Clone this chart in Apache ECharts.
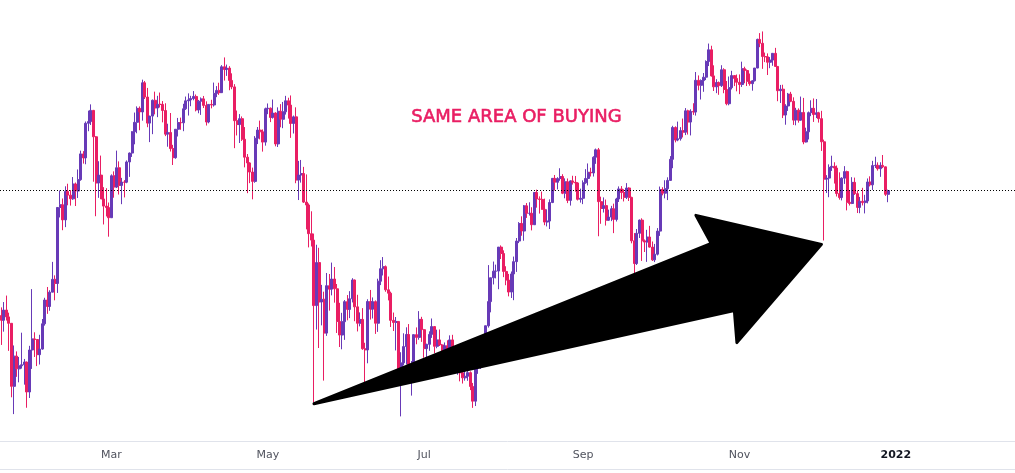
<!DOCTYPE html>
<html>
<head>
<meta charset="utf-8">
<script src="https://cdn.jsdelivr.net/npm/echarts@6/dist/echarts.min.js"></script>
<style>
  html, body { margin: 0; padding: 0; background: #fff; }
  #chart { width: 1015px; height: 473px; }
</style>
</head>
<body>
<div id="chart"></div>
<script>
// daily candles, 2021-01-17 .. 2021-12-29 (one row per month)
const opens = [
  36178,35792,36630,36069,35548,30825,33005,32067,32289,32366,32569,30432,33466,34316,34269,
  33114,33537,35510,37472,36926,38144,39266,38903,46196,46481,44918,47909,47504,47105,48717,47945,49199,52149,51679,55888,56099,57539,54207,48824,49705,47093,46339,46188,
  45137,49631,48378,50538,48561,48927,48912,51206,52246,54824,56008,57805,57332,61243,59302,55907,56804,58870,57858,58346,58313,57523,54529,54738,52774,51704,55137,55974,55947,57750,58800,
  58918,59095,59384,57604,58758,59057,58192,56048,58323,58245,59793,60204,59893,63503,63110,63314,61572,60683,56216,55724,56473,53906,51762,51093,50050,49004,54021,55033,54824,53555,
  57750,57828,56631,57200,53333,57424,56396,57356,58804,58232,55859,56704,49150,49716,49880,46760,46456,43538,42909,37002,40782,37304,37536,34770,38705,38402,39295,38436,35697,34616,35678,
  37333,36684,37575,39208,36895,35551,35862,33560,33472,37345,36702,37334,35552,39097,40218,40406,38347,38053,35787,35615,35698,31676,32505,33723,34662,31637,32186,34649,34434,35867,
  35040,33572,33897,34668,35287,33746,34235,33855,32877,33798,33520,34240,33155,32702,32822,31780,31421,31533,31796,30817,29807,32110,32313,33581,34292,35350,37337,39406,39995,40008,42235,
  41626,39974,39201,38152,39747,40869,42816,44555,43798,46365,45585,45593,44428,47793,47096,47047,46004,44695,44802,46717,49339,48905,49321,49546,47706,48960,46942,49058,48902,48829,47054,
  47166,48847,49327,50025,49944,51753,52633,46811,46091,46391,44883,45201,46063,44963,47092,48176,47783,47267,48278,47261,42843,40693,43574,44895,42839,42717,43208,42235,41034,41564,
  43790,48116,47711,48199,49113,51514,55361,53805,53967,54968,54771,57484,56041,57401,57321,61593,60892,61553,62026,64262,65993,62211,60688,61286,60852,63078,60328,58413,60575,62253,61859,
  61318,61004,63226,62970,61452,61125,61527,63326,67566,66971,64995,64949,64155,64469,65466,63557,60161,60368,56942,58119,59697,58730,56289,57569,56281,57274,53569,54815,57248,57806,
  57005,57229,56477,53598,49253,49368,50582,50700,50504,47672,47243,49362,50098,46737,46612,48896,47665,46202,46848,46707,46880,48936,48628,50784,50822,50429,50809,50640,47588
];
const highs = [
  36852,37299,37850,36415,35552,33811,33360,32944,34802,32794,32600,33783,38406,34834,34288,
  34638,35896,37662,38592,38310,40846,39621,46203,48003,47145,48463,48745,48047,49487,48875,50341,52533,52474,56113,57505,58330,57600,54300,51290,51948,48370,48253,46716,
  49784,50127,52535,51273,49396,49147,51384,52314,54901,57259,58064,58055,61683,61500,60540,56833,58970,60031,59468,59911,58767,58471,55831,57200,53229,55137,56568,56610,58405,59369,59800,
  59469,60110,59647,58913,59252,59449,58731,58338,58937,61276,60790,61253,63742,64863,63821,63595,62572,61057,57520,57062,56757,55410,52131,51167,50554,54288,55416,56227,55115,57900,
  58449,57915,58970,57300,57936,58363,58650,59464,59210,59519,56872,57939,51330,51438,50639,49783,46623,45799,43546,42462,42172,38776,38184,39835,39742,40782,40379,38856,37234,36400,37469,
  37896,38231,39367,39242,37917,36436,36790,34017,37537,38334,37690,37439,39322,41004,41295,40516,39513,38187,36424,36059,35721,33298,34753,35228,35487,32637,34656,35219,36542,36074,
  35100,33939,34909,35937,35300,35038,35056,33928,34042,34209,34593,34634,33339,33115,33159,32249,31935,32398,31885,31063,32816,32580,33581,34469,35364,40551,39406,40877,40594,42235,42400,
  41927,40446,39750,39969,41341,43113,44689,45282,46456,46664,46743,46218,47831,48098,47372,47889,47127,46000,47050,49342,49718,49471,50482,49804,49342,49327,49123,49631,49609,48913,48209,
  49115,50375,51033,50542,51868,52781,52853,47340,47262,47031,45969,46364,46598,47218,48450,48486,48141,48813,48359,47328,43598,44000,44954,45080,42971,43919,44313,42775,42541,44092,
  48436,48362,49130,49456,51886,55568,55500,56100,55398,56488,57840,57627,57688,58478,62757,62274,61715,62614,64434,66930,66600,63715,61743,61432,63729,63293,61496,62128,62927,62274,62406,
  62419,64242,63516,63123,62541,61590,63326,67673,68530,68789,65579,65460,64915,65495,66281,63617,60954,60977,58351,59859,60004,59266,57875,57803,59367,59186,55329,57393,58872,59113,
  59041,57360,57482,53859,49699,50929,51934,51171,50797,50015,49458,50724,50204,48004,49473,49425,48004,47313,48298,47537,49329,49568,51332,51814,51156,51171,52016,50679,48100
];
const lows = [
  33850,34883,35769,33400,30071,28949,31493,31106,32087,30942,29367,30023,32064,32940,32270,
  32384,33489,35362,36317,36570,38138,37446,38076,45166,43881,44187,46424,46392,47000,46347,47201,49072,51015,50937,54894,55672,48967,45290,47214,47093,44454,45269,43241,
  45115,47228,48275,47565,46542,47257,48800,49506,51789,53290,54638,55013,56217,59038,55393,53555,54528,57023,56665,57915,56005,54288,53000,52429,50856,51579,54242,55071,54895,57600,56873,
  58089,58869,57414,57168,56957,57846,55604,55879,57807,58038,59289,59589,59869,61554,62208,60222,60361,52829,54368,53448,53695,50583,47714,48805,47056,48852,53319,53887,52418,53129,
  57052,56035,56478,53046,52969,55382,55271,56998,56482,54071,54608,48800,46980,48868,46664,43963,42207,42293,29700,35050,33616,35383,31227,34551,36581,37868,37247,34779,33693,33520,34241,
  35787,35966,37268,35717,34900,35304,33480,31114,32475,35847,35937,34707,34865,38757,39609,38176,37439,35255,34933,33432,31295,28800,32318,32385,31350,30185,32071,33902,34252,34086,
  32883,32770,33402,34396,33213,33599,33770,32133,32318,33116,33450,32677,32270,31639,31175,31021,31223,31215,30563,29360,29482,31708,32057,33192,33881,35205,36441,38814,39352,38397,41110,
  39460,38746,37782,37642,37458,39932,42618,43331,42848,45119,45361,43861,44400,46177,45562,45952,44377,44256,43998,46650,48004,48123,49074,47609,47164,46653,46394,48652,47875,46932,46707,
  46544,48744,48559,49544,49543,50988,43285,44523,45669,44344,44818,44791,43591,44752,46773,47079,46829,47088,46876,42598,39787,40562,43116,40936,41770,40848,42190,40931,40829,41444,
  43320,47481,47159,46974,49073,50488,53525,53662,53735,54123,54415,54477,54371,56957,56868,60206,58973,60012,61622,63610,62117,60122,59826,59604,60665,59817,58208,58206,60329,60791,60074,
  59695,60673,61184,60799,60844,60163,61432,63300,66382,63208,64180,62333,63303,63647,63548,58747,58514,56550,55705,57469,58618,55679,55632,55964,56218,53300,53500,53879,56792,56057,
  56553,55973,52496,42874,47727,47281,50175,48765,47358,47023,46942,48725,45894,46402,46550,47529,45618,45598,46406,45579,46630,48450,48065,50514,50213,49510,50499,47414,46750
];
const closes = [
  35792,36630,36069,35548,30825,33005,32067,32289,32366,32569,30432,33466,34316,34269,33114,
  33537,35510,37472,36926,38144,39266,38903,46196,46481,44918,47909,47504,47105,48717,47945,49199,52149,51679,55888,56099,57539,54207,48824,49705,47093,46339,46188,45137,
  49631,48378,50538,48561,48927,48912,51206,52246,54824,56008,57805,57332,61243,59302,55907,56804,58870,57858,58346,58313,57523,54529,54738,52774,51704,55137,55974,55947,57750,58800,58918,
  59095,59384,57604,58758,59057,58192,56048,58323,58245,59793,60204,59893,63503,63110,63314,61572,60683,56216,55724,56473,53906,51762,51093,50050,49004,54021,55033,54824,53555,57750,
  57828,56631,57200,53333,57424,56396,57356,58804,58232,55859,56704,49150,49716,49880,46760,46456,43538,42909,37002,40782,37304,37536,34770,38705,38402,39295,38436,35697,34616,35678,37333,
  36684,37575,39208,36895,35551,35862,33560,33472,37345,36702,37334,35552,39097,40218,40406,38347,38053,35787,35615,35698,31676,32505,33723,34662,31637,32186,34649,34434,35867,35040,
  33572,33897,34668,35287,33746,34235,33855,32877,33798,33520,34240,33155,32702,32822,31780,31421,31533,31796,30817,29807,32110,32313,33581,34292,35350,37337,39406,39995,40008,42235,41626,
  39974,39201,38152,39747,40869,42816,44555,43798,46365,45585,45593,44428,47793,47096,47047,46004,44695,44802,46717,49339,48905,49321,49546,47706,48960,46942,49058,48902,48829,47054,47166,
  48847,49327,50025,49944,51753,52633,46811,46091,46391,44883,45201,46063,44963,47092,48176,47783,47267,48278,47261,42843,40693,43574,44895,42839,42717,43208,42235,41034,41564,43790,
  48116,47711,48199,49113,51514,55361,53805,53967,54968,54771,57484,56041,57401,57321,61593,60892,61553,62026,64262,65993,62211,60688,61286,60852,63078,60328,58413,60575,62253,61859,61318,
  61004,63226,62970,61452,61125,61527,63326,67566,66971,64995,64949,64155,64469,65466,63557,60161,60368,56942,58119,59697,58730,56289,57569,56281,57274,53569,54815,57248,57806,57005,
  57229,56477,53598,49253,49368,50582,50700,50504,47672,47243,49362,50098,46737,46612,48896,47665,46202,46848,46707,46880,48936,48628,50784,50822,50429,50809,50640,47588,48000
];

// category axis runs on past the last candle, like the empty right side of the chart
const firstDay = Date.UTC(2021, 0, 17);
const dayCount = 396;
const categories = [];
for (let i = 0; i < dayCount; i++) {
  categories.push(new Date(firstDay + i * 86400000).toISOString().slice(0, 10));
}

const tickLabels = {
  '2021-03-01': 'Mar',
  '2021-05-01': 'May',
  '2021-07-01': 'Jul',
  '2021-09-01': 'Sep',
  '2021-11-01': 'Nov',
  '2022-01-01': '2022'
};

// drawn annotation: arrow from the May low to the December wick, and the note
const arrowPoints = [
  ['2021-05-19', 29640],
  ['2021-10-21', 42590],
  ['2021-10-15', 45380],
  ['2021-12-03', 42500],
  ['2021-10-31', 34030],
  ['2021-10-30', 36600]
];
const noteText = 'SAME AREA OF BUYING';
const noteAnchor = ['2021-08-06', 56660];

const UP = '#673ab7';
const DOWN = '#e91e63';

const candles = opens.map((o, i) => [o, closes[i], lows[i], highs[i]]);
const lastClose = closes[closes.length - 1];

const chart = echarts.init(document.getElementById('chart'));

chart.setOption({
  animation: false,
  backgroundColor: '#ffffff',
  grid: { left: 0, top: 0, width: dayCount * 2.565, height: 441 },
  xAxis: {
    type: 'category',
    data: categories,
    axisLine: { lineStyle: { color: '#e0e3eb', width: 1 } },
    axisTick: { show: false },
    splitLine: { show: false },
    axisLabel: {
      interval: (idx, val) => val in tickLabels,
      formatter: (val) => {
        if (!(val in tickLabels)) return '';
        return val === '2022-01-01' ? '{yr|' + tickLabels[val] + '}' : tickLabels[val];
      },
      color: '#50535e',
      fontFamily: 'DejaVu Sans',
      fontSize: 11,
      margin: 9,
      rich: {
        yr: { color: '#131722', fontFamily: 'DejaVu Sans', fontSize: 11, fontWeight: 'bold' }
      }
    }
  },
  yAxis: {
    type: 'log',
    min: 27240,
    max: 73860,
    show: false,
    splitLine: { show: false }
  },
  series: [{
    type: 'candlestick',
    data: candles,
    barWidth: 2.5,
    itemStyle: {
      color: UP,
      color0: DOWN,
      borderColor: UP,
      borderColor0: DOWN,
      borderColorDoji: UP,
      borderWidth: 1
    },
    markLine: {
      silent: true,
      symbol: 'none',
      label: { show: false },
      lineStyle: { color: '#000000', type: [1, 2], width: 1.2 },
      data: [{ yAxis: lastClose }]
    }
  }]
});

const toPx = (p) => chart.convertToPixel({ gridIndex: 0 }, p);
const notePx = toPx(noteAnchor);

chart.setOption({
  graphic: [
    {
      type: 'polygon',
      z: 100,
      shape: { points: arrowPoints.map(toPx) },
      style: { fill: '#000', stroke: '#000', lineWidth: 3, lineJoin: 'round' }
    },
    {
      type: 'text',
      z: 100,
      x: notePx[0],
      y: notePx[1],
      style: {
        text: noteText,
        fill: DOWN,
        stroke: DOWN,
        lineWidth: 0.6,
        font: '18px "DejaVu Sans"',
        align: 'center',
        verticalAlign: 'middle'
      }
    },
    {
      type: 'line',
      z: 100,
      shape: { x1: 0, y1: 469.5, x2: 1015, y2: 469.5 },
      style: { stroke: '#e0e3eb', lineWidth: 1 }
    }
  ]
});
</script>
</body>
</html>
